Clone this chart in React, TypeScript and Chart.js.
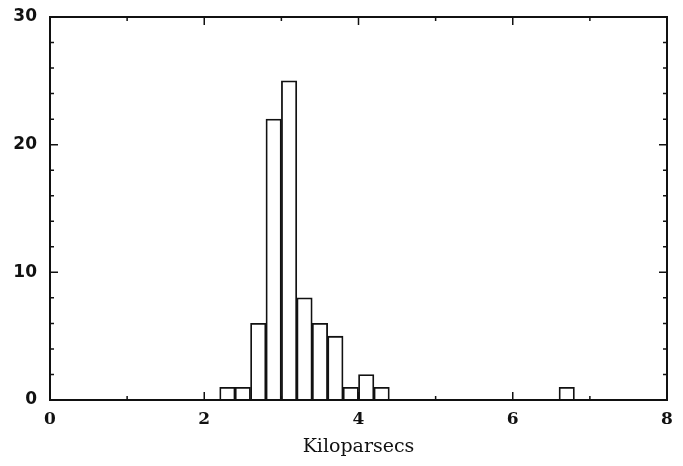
import React, { useEffect, useRef } from "react";
import { Chart, registerables } from "chart.js";

Chart.register(...registerables);

// Histogram bins (width 0.2 kpc), only non-empty ones
const binCenters = [2.3, 2.5, 2.7, 2.9, 3.1, 3.3, 3.5, 3.7, 3.9, 4.1, 4.3, 6.7];
const binCounts = [1, 1, 6, 22, 25, 8, 6, 5, 1, 2, 1, 1];
const xTickLabels = [0, 2, 4, 6, 8];
const yTickLabels = [0, 10, 20, 30];
const xMinorTicks = [1, 3, 5, 7];
const yMinorTicks = [2, 4, 6, 8, 12, 14, 16, 18, 22, 24, 26, 28];
const xTitle = "Kiloparsecs";

const framePlugin = {
  id: "frameTicks",
  afterDatasetsDraw(chart: any) {
    const { ctx, chartArea } = chart;
    const { left, right, top, bottom } = chartArea;
    const xs = chart.scales.x;
    const ys = chart.scales.y;
    ctx.save();
    ctx.strokeStyle = "#111";
    ctx.lineWidth = 2;
    ctx.strokeRect(left, top, right - left, bottom - top);
    ctx.lineWidth = 1.5;
    const major = 8;
    const minor = 4;
    ctx.beginPath();
    const xt = (v: number, len: number) => {
      const px = xs.getPixelForValue(v);
      ctx.moveTo(px, bottom);
      ctx.lineTo(px, bottom - len);
      ctx.moveTo(px, top);
      ctx.lineTo(px, top + len);
    };
    const yt = (v: number, len: number) => {
      const py = ys.getPixelForValue(v);
      ctx.moveTo(left, py);
      ctx.lineTo(left + len, py);
      ctx.moveTo(right, py);
      ctx.lineTo(right - len, py);
    };
    xTickLabels.forEach((v) => xt(v, major));
    xMinorTicks.forEach((v) => xt(v, minor));
    yTickLabels.forEach((v) => yt(v, major));
    yMinorTicks.forEach((v) => yt(v, minor));
    ctx.stroke();
    ctx.restore();
  },
};

export default function App() {
  const ref = useRef<HTMLCanvasElement>(null);
  useEffect(() => {
    document.body.style.margin = "0";
    const chart = new Chart(ref.current!, {
      type: "bar",
      data: {
        datasets: [
          {
            data: binCenters.map((x, i) => ({ x, y: binCounts[i] })),
            backgroundColor: "#ffffff",
            borderColor: "#111",
            borderWidth: 1.8,
            barPercentage: 1,
            categoryPercentage: 1,
          },
        ],
      },
      options: {
        animation: false,
        responsive: true,
        maintainAspectRatio: false,
        layout: { padding: { left: 0, right: 16, top: 17, bottom: 0 } },
        plugins: { legend: { display: false }, tooltip: { enabled: false } },
        scales: {
          x: {
            type: "linear",
            min: 0,
            max: 8,
            offset: false,
            grid: { display: false, drawTicks: false },
            border: { display: false },
            ticks: {
              stepSize: 2,
              padding: 9,
              color: "#111",
              font: { family: "DejaVu Serif", size: 17, weight: "bold" },
              maxRotation: 0,
            },
            title: {
              display: true,
              text: xTitle,
              color: "#111",
              font: { family: "DejaVu Serif", size: 19 },
              padding: { top: 10, bottom: 8 },
            },
            afterFit: (s: any) => {
              s.height = 66;
              s.paddingLeft = 0;
              s.paddingRight = 0;
            },
          },
          y: {
            min: 0,
            max: 30,
            grid: { display: false, drawTicks: false },
            border: { display: false },
            ticks: {
              stepSize: 10,
              padding: 13,
              color: "#111",
              font: { family: "DejaVu Sans", size: 17, weight: "bold" },
            },
            afterFit: (s: any) => {
              s.width = 50;
              s.paddingTop = 0;
              s.paddingBottom = 0;
            },
          },
        },
      },
      plugins: [framePlugin],
    });
    return () => chart.destroy();
  }, []);
  return (
    <div style={{ position: "fixed", left: 0, top: 0, width: 683, height: 466, background: "#fff" }}>
      <canvas ref={ref} />
    </div>
  );
}
